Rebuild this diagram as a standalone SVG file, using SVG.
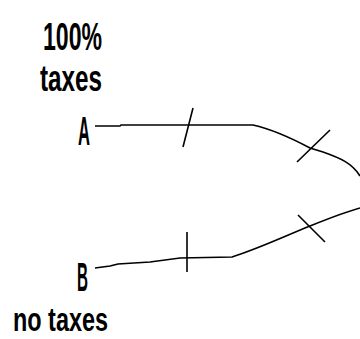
<svg xmlns="http://www.w3.org/2000/svg" width="360" height="339" viewBox="0 0 360 339">
<style>
text{font-family:"Liberation Sans",Arial,sans-serif;font-weight:bold;fill:#000}
.c{fill:none;stroke:#000;stroke-width:1.6}
</style>
<rect width="360" height="339" fill="#fff"/>
<g id="nodeA">
<text x="43" y="50" font-size="38" textLength="59" lengthAdjust="spacingAndGlyphs">100%</text>
<text x="40" y="91" font-size="36" textLength="62" lengthAdjust="spacingAndGlyphs">taxes</text>
<text x="78" y="145" font-size="40" textLength="12" lengthAdjust="spacingAndGlyphs">A</text>
</g>
<g id="nodeB">
<text x="77" y="291" font-size="40" textLength="11" lengthAdjust="spacingAndGlyphs">B</text>
<text x="13" y="331" font-size="34" textLength="95" lengthAdjust="spacingAndGlyphs">no taxes</text>
</g>
<g id="connectors">
<path class="c" d="M95,126 L120,126 L121,125 L253,125 C275,130 295,140 310,148 L323,152 C340,158 352,163 360,176"/>
<path class="c" d="M95,268 L110,266 L118,264 L150,262 L180,258 L232,257 C260,248 285,236 310,226 C330,218 345,212 360,208"/>
<path class="c" d="M183,147 L193,108 M297,162 L330,130 M187,232 L187,272 M298,215 L325,242"/>
</g>
</svg>
